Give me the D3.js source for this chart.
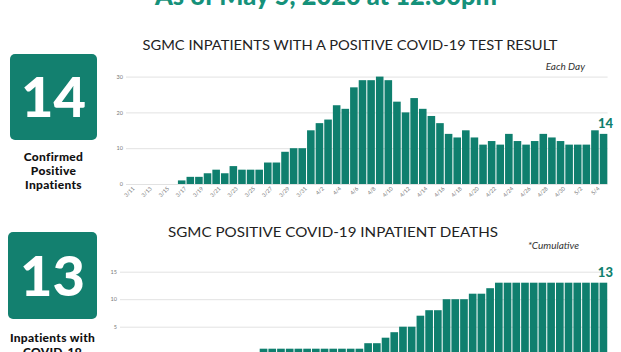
<!DOCTYPE html>
<html>
<head>
<meta charset="utf-8">
<script src="https://cdn.jsdelivr.net/npm/d3@7/dist/d3.min.js"></script>
<style>
  html, body { margin: 0; padding: 0; background: #fff; }
  svg { display: block; }
</style>
</head>
<body>
<svg id="chart" width="621" height="352"></svg>
<script>
// ---------- DATA ----------
const dates = [
  "3/11","3/12","3/13","3/14","3/15","3/16","3/17","3/18","3/19","3/20",
  "3/21","3/22","3/23","3/24","3/25","3/26","3/27","3/28","3/29","3/30","3/31",
  "4/1","4/2","4/3","4/4","4/5","4/6","4/7","4/8","4/9","4/10",
  "4/11","4/12","4/13","4/14","4/15","4/16","4/17","4/18","4/19","4/20",
  "4/21","4/22","4/23","4/24","4/25","4/26","4/27","4/28","4/29","4/30",
  "5/1","5/2","5/3","5/4","5/5"
];
const inpatients = [
  0,0,0,0,0,0,1,2,2,3,
  4,3,5,4,4,4,6,6,9,10,10,
  15,17,18,22,21,27,29,29,30,29,
  23,20,24,21,19,17,14,13,15,13,
  11,12,11,14,12,11,12,14,13,12,
  11,11,11,15,14
];
const deaths = [
  0,0,0,0,0,0,0,0,0,0,
  0,0,0,0,0,0,1,1,1,1,1,
  1,1,1,1,1,1,1,2,2,3,
  4,5,5,7,8,8,10,10,10,11,
  11,12,13,13,13,13,13,13,13,13,
  13,13,13,13,13
];
const tickDates = dates.filter((d, i) => i % 2 === 0);
const topTicks = [0, 10, 20, 30];
const bottomTicks = [0, 5, 10, 15];

// ---------- STYLE ----------
const teal = "#0f7f6e";
const boxTeal = "#13806f";
const headerTeal = "#15917a";
const svg = d3.select("#chart");

// Header (cut off at top, as in the reference)
svg.append("text")
  .attr("x", 326).attr("y", 5)
  .attr("text-anchor", "middle")
  .attr("font-family", "Lato, 'Open Sans', sans-serif")
  .attr("font-weight", 900)
  .attr("font-size", 26)
  .attr("fill", headerTeal)
  .attr("textLength", 342).attr("lengthAdjust", "spacingAndGlyphs")
  .text("As of May 5, 2020 at 12:30pm");

// ---------- Left boxes ----------
function statBox(x, y, w, h, num, lines, lineY) {
  svg.append("rect")
    .attr("x", x).attr("y", y).attr("width", w).attr("height", h)
    .attr("rx", 5).attr("fill", boxTeal);
  svg.append("text")
    .attr("x", x + w / 2).attr("y", y + h / 2 + 20)
    .attr("text-anchor", "middle")
    .attr("font-family", "Lato, sans-serif")
    .attr("font-weight", 900)
    .attr("font-size", 56)
    .attr("fill", "#fff")
    .text(num);
  lines.forEach((t, i) => {
    svg.append("text")
      .attr("x", x + w / 2).attr("y", lineY + i * 14)
      .attr("text-anchor", "middle")
      .attr("font-family", "Lato, sans-serif")
      .attr("font-weight", 900)
      .attr("font-size", 12)
      .attr("letter-spacing", 0.3)
      .attr("fill", "#111")
      .text(t);
  });
}
statBox(10, 54, 87, 86, "14", ["Confirmed", "Positive", "Inpatients"], 161);
statBox(8, 232, 89, 87, "13", ["Inpatients with", "COVID-19"], 342);

// ---------- Bar chart helper ----------
function barChart(opts) {
  const x = d3.scaleBand().domain(dates).range([opts.x0, opts.x1]).paddingInner(0.12).paddingOuter(0.03);
  const y = d3.scaleLinear().domain(opts.domain).range([opts.yBottom, opts.yTop]);
  const g = svg.append("g");

  // grid + y labels
  const yAxis = d3.axisLeft(y).tickValues(opts.ticks).tickSize(-(opts.x1 - opts.x0)).tickPadding(3);
  const ga = g.append("g").attr("transform", `translate(${opts.x0},0)`).call(yAxis);
  ga.select(".domain").remove();
  ga.selectAll(".tick line").attr("stroke", "#e2e2e2").attr("stroke-width", 1);
  ga.selectAll(".tick text").attr("fill", "#777").attr("font-size", 5.5)
    .attr("font-family", "Lato, sans-serif");

  // bars
  g.append("g").selectAll("rect").data(opts.values).join("rect")
    .attr("x", (d, i) => x(dates[i]))
    .attr("width", x.bandwidth())
    .attr("y", d => y(d))
    .attr("height", d => y(0) - y(d))
    .attr("fill", teal);

  // x labels
  if (opts.xLabels) {
    const xAxis = d3.axisBottom(x).tickValues(tickDates).tickSize(0).tickPadding(0);
    const gx = g.append("g").attr("transform", `translate(0,${opts.yBottom + 3})`).call(xAxis);
    gx.select(".domain").remove();
    gx.selectAll(".tick text")
      .attr("fill", "#777").attr("font-size", 5.5)
      .attr("font-family", "Lato, sans-serif")
      .attr("text-anchor", "end")
      .attr("dy", "0.5em")
      .attr("transform", "translate(3,0) rotate(-45)");
  }

  // last value label
  const lastI = opts.values.length - 1;
  g.append("text")
    .attr("x", x(dates[lastI]) + x.bandwidth() / 2 + 2)
    .attr("y", y(opts.values[lastI]) - 6)
    .attr("text-anchor", "middle")
    .attr("font-family", "Lato, sans-serif")
    .attr("font-weight", 900)
    .attr("font-size", 13)
    .attr("fill", teal)
    .text(opts.values[lastI]);
}

// Top chart
svg.append("text")
  .attr("x", 350).attr("y", 50)
  .attr("text-anchor", "middle")
  .attr("font-family", "Lato, sans-serif")
  .attr("font-weight", 400)
  .attr("font-size", 14)
  .attr("fill", "#222")
  .attr("textLength", 415).attr("lengthAdjust", "spacingAndGlyphs")
  .text("SGMC INPATIENTS WITH A POSITIVE COVID-19 TEST RESULT");
svg.append("text")
  .attr("x", 585).attr("y", 70)
  .attr("text-anchor", "end")
  .attr("font-family", "Lato, sans-serif")
  .attr("font-style", "italic")
  .attr("font-size", 10)
  .attr("fill", "#333")
  .text("Each Day");
barChart({ x0: 126, x1: 607.6, yBottom: 184, yTop: 76.6, domain: [0, 30], ticks: topTicks, values: inpatients, xLabels: true });

// Bottom chart
svg.append("text")
  .attr("x", 333).attr("y", 237)
  .attr("text-anchor", "middle")
  .attr("font-family", "Lato, sans-serif")
  .attr("font-weight", 400)
  .attr("font-size", 14)
  .attr("fill", "#222")
  .attr("textLength", 330).attr("lengthAdjust", "spacingAndGlyphs")
  .text("SGMC POSITIVE COVID-19 INPATIENT DEATHS");
svg.append("text")
  .attr("x", 579).attr("y", 249)
  .attr("text-anchor", "end")
  .attr("font-family", "Lato, sans-serif")
  .attr("font-style", "italic")
  .attr("font-size", 10)
  .attr("fill", "#333")
  .text("*Cumulative");
barChart({ x0: 120, x1: 607.5, yBottom: 354.2, yTop: 271.7, domain: [0, 15], ticks: bottomTicks, values: deaths, xLabels: false });
</script>
</body>
</html>
